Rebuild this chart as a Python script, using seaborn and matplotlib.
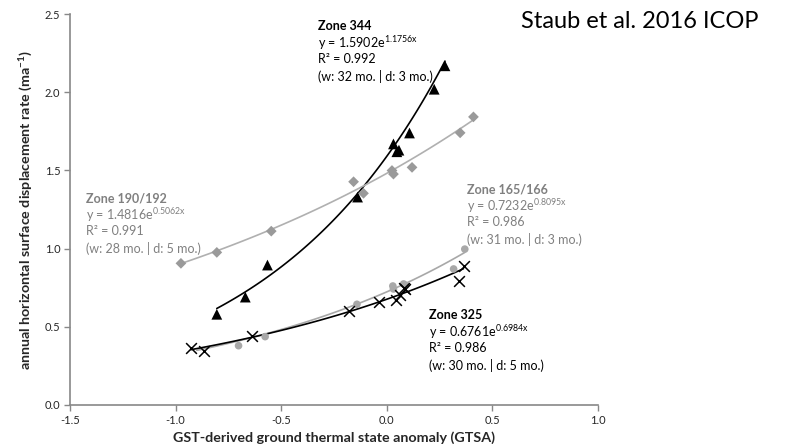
import matplotlib
matplotlib.use("Agg")
import matplotlib.pyplot as plt
import seaborn as sns
import numpy as np
import pandas as pd

# ---- data ----
z344_x = [-0.805, -0.67, -0.565, -0.138, 0.032, 0.048, 0.058, 0.108, 0.225, 0.276]
z344_y = [0.58, 0.69, 0.895, 1.33, 1.67, 1.62, 1.63, 1.74, 2.02, 2.17]

z190_x = [-0.975, -0.805, -0.547, -0.157, -0.11, 0.025, 0.032, 0.12, 0.348, 0.411]
z190_y = [0.906, 0.976, 1.112, 1.428, 1.354, 1.50, 1.477, 1.52, 1.741, 1.843]

z165_x = [-0.702, -0.576, -0.141, 0.029, 0.032, 0.08, 0.09, 0.317, 0.37]
z165_y = [0.379, 0.437, 0.644, 0.761, 0.742, 0.774, 0.765, 0.87, 0.997]

z325_x = [-0.928, -0.868, -0.636, -0.178, -0.037, 0.045, 0.064, 0.08, 0.089, 0.344, 0.364]
z325_y = [0.362, 0.347, 0.441, 0.603, 0.659, 0.671, 0.703, 0.746, 0.74, 0.793, 0.891]

# exponential trend coefficients (a, b) and fitted x-range
fit_a = {"344": 1.5902, "190": 1.4816, "165": 0.7232, "325": 0.6761}
fit_b = {"344": 1.1756, "190": 0.5062, "165": 0.8095, "325": 0.6984}
fit_range = {"344": (-0.805, 0.276), "190": (-0.975, 0.411),
             "165": (-0.90, 0.37), "325": (-0.928, 0.364)}

labels = {
    "344": ("Zone 344", "1.5902", "1.1756x", "0.992", "(w: 32 mo. | d: 3 mo.)"),
    "190": ("Zone 190/192", "1.4816", "0.5062x", "0.991", "(w: 28 mo. | d: 5 mo.)"),
    "165": ("Zone 165/166", "0.7232", "0.8095x", "0.986", "(w: 31 mo. | d: 3 mo.)"),
    "325": ("Zone 325", "0.6761", "0.6984x", "0.986", "(w: 30 mo. | d: 5 mo.)"),
}

x_ticks = [-1.5, -1.0, -0.5, 0.0, 0.5, 1.0]
y_ticks = [0.0, 0.5, 1.0, 1.5, 2.0, 2.5]

sns.set_theme(style="white")
plt.rcParams["font.family"] = ["Lato", "DejaVu Sans"]

fig = plt.figure(figsize=(7.97, 4.44), dpi=100)
ax = fig.add_axes([0.088, 0.088, 0.662, 0.880])

BLACK = "#000000"
GRAY = "#9a9a9a"
LGRAY = "#a8a8a8"

series = [
    ("344", z344_x, z344_y, "^", BLACK, BLACK, 60),
    ("190", z190_x, z190_y, "D", GRAY, GRAY, 30),
    ("165", z165_x, z165_y, "o", LGRAY, LGRAY, 30),
    ("325", z325_x, z325_y, "x", BLACK, BLACK, 60),
]

for key, xs, ys, mk, col, lcol, sz in series:
    lo, hi = fit_range[key]
    xf = np.linspace(lo, hi, 100)
    yf = fit_a[key] * np.exp(fit_b[key] * xf)
    sns.lineplot(x=xf, y=yf, ax=ax, color=lcol if key != "190" else "#b0b0b0",
                 linewidth=1.2, zorder=2)
    df = pd.DataFrame({"x": xs, "y": ys})
    if mk == "x":
        sns.scatterplot(data=df, x="x", y="y", ax=ax, marker="x", color=col,
                        s=sz, linewidth=1.1, zorder=3)
    else:
        sns.scatterplot(data=df, x="x", y="y", ax=ax, marker=mk, color=col,
                        s=sz, edgecolor="none", zorder=3)

ax.set_xlim(-1.5, 1.0)
ax.set_ylim(0.0, 2.5)
ax.set_xticks(x_ticks)
ax.set_yticks(y_ticks)
ax.set_xticklabels([f"{v:.1f}" for v in x_ticks], fontsize=8)
ax.set_yticklabels([f"{v:.1f}" for v in y_ticks], fontsize=8)
for s in ["top", "right"]:
    ax.spines[s].set_visible(False)
for s in ["left", "bottom"]:
    ax.spines[s].set_color("#888888")
    ax.spines[s].set_linewidth(1.2)
ax.tick_params(axis="both", direction="out", length=4, width=1, color="#888888",
               left=True, bottom=True, pad=3)
ax.set_xlabel("GST-derived ground thermal state anomaly (GTSA)", fontsize=10.3,
              fontweight="bold", labelpad=4)
ax.set_ylabel("annual horizontal surface displacement rate (ma$^{\\mathregular{-1}}$)",
              fontsize=10.3, fontweight="bold", labelpad=8)

# annotation positions in pixel-ish figure fractions
text_pos = {"344": (318, 26, BLACK), "190": (86, 198, "#808080"),
            "165": (467, 189, "#808080"), "325": (429, 315, BLACK)}
W, H = 797, 444
for key, (px, py, col) in text_pos.items():
    zone, a, b, r2, wd = labels[key]
    step = 16.7
    fig.text(px / W, 1 - py / H, zone, fontsize=9, fontweight="bold", color=col,
             va="center", ha="left")
    fig.text(px / W, 1 - (py + step) / H, f"y = {a}e$^{{\\mathregular{{{b}}}}}$",
             fontsize=9, color=col, va="center", ha="left")
    fig.text(px / W, 1 - (py + 2 * step) / H, f"R² = {r2}", fontsize=9, color=col,
             va="center", ha="left")
    fig.text(px / W, 1 - (py + 3 * step) / H, wd, fontsize=9, color=col,
             va="center", ha="left")

fig.text(521 / W, 1 - 22 / H, "Staub et al. 2016 ICOP", fontsize=17, color="black",
         va="center", ha="left")

fig.savefig("out.png", dpi=100)
